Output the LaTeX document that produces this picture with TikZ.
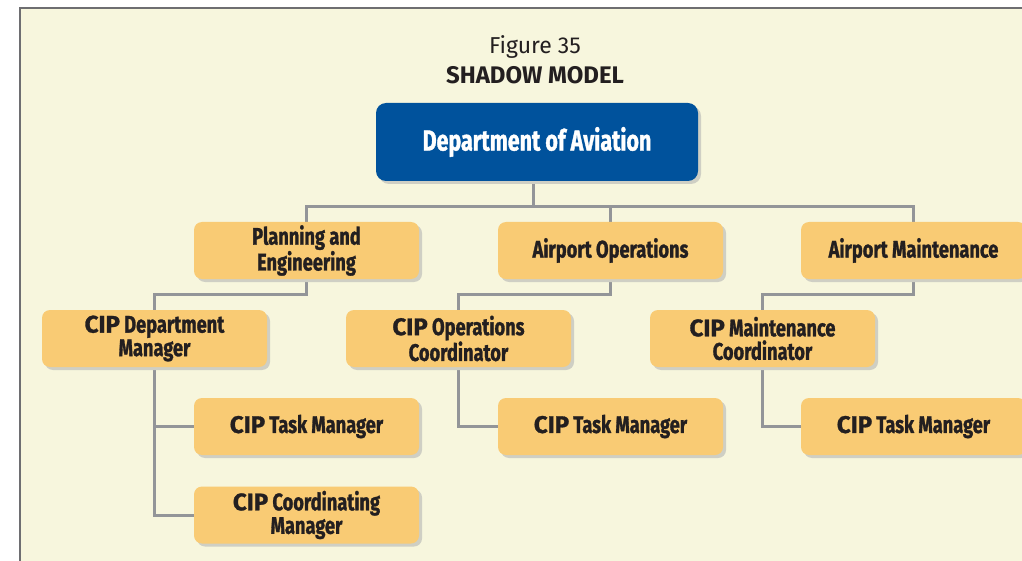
\documentclass[tikz,border=0pt]{standalone}
\usepackage{fontspec}
\setmainfont{Fira Sans}
\newfontfamily\condfont{Fira Sans}[FakeStretch=0.76, BoldFeatures={FakeBold=1.2}]
\newfontfamily\condtop{Fira Sans}[FakeStretch=0.74, BoldFeatures={FakeBold=1.2}]
\newfontfamily\cipfont{Fira Sans}[BoldFeatures={FakeBold=1.2}]
\usetikzlibrary{shadows,backgrounds}
\definecolor{bgcream}{RGB}{247,246,221}
\definecolor{frameline}{RGB}{110,110,113}
\definecolor{boxyellow}{RGB}{249,203,116}
\definecolor{boxblue}{RGB}{0,82,156}
\definecolor{shadowgray}{RGB}{207,207,196}
\definecolor{connline}{RGB}{147,149,152}
\definecolor{textdark}{RGB}{35,31,32}
\newcommand{\cipword}{{\cipfont\bfseries CIP}}
\tikzset{
  orgbox/.style={rectangle, rounded corners=8pt, fill=boxyellow, text=textdark,
    minimum width=225pt, minimum height=57pt, align=center, inner sep=2pt,
    font=\condfont\bfseries\fontsize{24}{23.5}\selectfont,
    drop shadow={shadow xshift=3pt, shadow yshift=-3pt, fill=shadowgray, opacity=1}},
  topbox/.style={orgbox, fill=boxblue, text=white, minimum width=322pt, minimum height=78pt,
    rounded corners=10pt, font=\condtop\bfseries\fontsize{29}{30}\selectfont},
  conn/.style={draw=connline, line width=3pt},
  titletext/.style={text=textdark, inner sep=0pt}
}
\begin{document}
\begin{tikzpicture}[x=1pt,y=-1pt]
\useasboundingbox (0,0) rectangle (1022,561);
\begin{pgfonlayer}{background}
  \fill[white] (0,0) rectangle (1022,561);
  \fill[bgcream] (20,8) rectangle (1022,561);
  \draw[frameline, line width=2pt] (20,561) -- (20,8) -- (1022,8);
\end{pgfonlayer}

\node[titletext, font=\fontsize{23}{26}\selectfont] (fig) at (535,47) {Figure 35};
\node[titletext, font=\bfseries\fontsize{24}{26}\selectfont] (title) at (535,75) {SHADOW MODEL};

\node[topbox] (dept) at (537,142) {Department of Aviation};

\node[orgbox] (plan) at (306.5,250.5) {Planning and\\Engineering};
\node[orgbox] (ops) at (610.5,250.5) {Airport Operations};
\node[orgbox] (maint) at (913.5,250.5) {Airport Maintenance};

\node[orgbox] (cdm) at (154.5,338.5) {\cipword{} Department\\Manager};
\node[orgbox] (coc) at (458.5,338.5) {\cipword{} Operations\\Coordinator};
\node[orgbox] (cmc) at (762.5,338.5) {\cipword{} Maintenance\\Coordinator};

\node[orgbox] (tm1) at (306.5,426.5) {\cipword{} Task Manager};
\node[orgbox] (ccm) at (306.5,515) {\cipword{} Coordinating\\Manager};
\node[orgbox] (tm2) at (610.5,426.5) {\cipword{} Task Manager};
\node[orgbox] (tm3) at (913.5,426.5) {\cipword{} Task Manager};

\coordinate (bus) at (533,207);
\begin{pgfonlayer}{background}
  \draw[conn] (bus |- dept.south) -- (bus);
  \draw[conn] (plan.north) |- (bus) -| (maint.north);
  \draw[conn] (ops.north) -- (ops.north |- bus);
  \draw[conn] (plan.south) -- (plan.south |- 0,294) -| (cdm.north);
  \draw[conn] (ops.south) -- (ops.south |- 0,294) -| (coc.north);
  \draw[conn] (maint.south) -- (maint.south |- 0,294) -| (cmc.north);
  \draw[conn] (cdm.south) |- (tm1.west);
  \draw[conn] (cdm.south) |- (ccm.west);
  \draw[conn] (coc.south) |- (tm2.west);
  \draw[conn] (cmc.south) |- (tm3.west);
\end{pgfonlayer}
\end{tikzpicture}
\end{document}
